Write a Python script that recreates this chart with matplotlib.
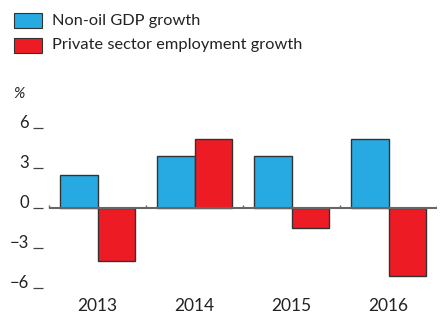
import matplotlib.pyplot as plt
from matplotlib.patches import Rectangle

years = ["2013", "2014", "2015", "2016"]
gdp_growth = [2.5, 3.9, 3.9, 5.2]
employment_growth = [-4.0, 5.2, -1.5, -5.1]
y_ticks = [-6, -3, 0, 3, 6]
y_tick_labels = ["\u22126", "\u22123", "0", "3", "6"]

blue = "#27aae1"
red = "#ed1c24"
edge = "#333333"
text_color = "#222222"

plt.rcParams["font.family"] = ["Lato", "DejaVu Sans"]

fig = plt.figure(figsize=(4.4, 3.15), dpi=100)
W, H = 440, 315

# axes placed in pixels: left edge 43, right 437, y=-6 at 288, y=6 at 128
ax = fig.add_axes([43 / W, (H - 288) / H, (437 - 43) / W, (288 - 128) / H])

positions = list(range(len(years)))
bar_width = 0.39

ax.bar(
    [p - bar_width / 2 for p in positions],
    gdp_growth,
    width=bar_width,
    color=blue,
    edgecolor=edge,
    linewidth=1.0,
    zorder=2
)
ax.bar(
    [p + bar_width / 2 for p in positions],
    employment_growth,
    width=bar_width,
    color=red,
    edgecolor=edge,
    linewidth=1.0,
    zorder=2
)

left_edge = -0.5 - 6 / 97
ax.set_xlim(left_edge, len(years) - 0.5)
ax.set_ylim(-6, 6)

# zero line and small category separators
boundaries = [p - 0.5 for p in range(len(years) + 1)]
ax.plot([-0.5, len(years) - 0.5], [0, 0], color="#666666", linewidth=1.5,
        zorder=3, solid_capstyle="butt")
ax.vlines(boundaries, 0, 0.22, color="#666666", linewidth=1.0, zorder=3)

for side in ["top", "right", "left", "bottom"]:
    ax.spines[side].set_visible(False)

ax.set_yticks(y_ticks)
ax.set_yticklabels(y_tick_labels, fontsize=12, color=text_color)
ax.tick_params(axis="y", direction="out", length=7, width=0.9,
               color="#444444", pad=3)
for label in ax.get_yticklabels():
    label.set_verticalalignment("baseline")

ax.set_xticks(positions)
ax.set_xticklabels(years, fontsize=12.5, color=text_color)
ax.tick_params(axis="x", length=0, pad=7)

fig.text(13 / W, 1 - 94 / H, "%", fontsize=11, style="italic",
         color=text_color, va="center", ha="left")

# legend
legend_items = [("Non-oil GDP growth", blue), ("Private sector employment growth", red)]
for i, (label, colour) in enumerate(legend_items):
    top = 13 + i * 25
    fig.patches.append(Rectangle(
        (14 / W, 1 - (top + 15) / H), 28 / W, 15 / H,
        transform=fig.transFigure, facecolor=colour,
        edgecolor=edge, linewidth=0.8
    ))
    fig.text(52 / W, 1 - (top + 7.5) / H, label, fontsize=11.8,
             color=text_color, va="center", ha="left")

fig.savefig("out.png", dpi=100)
